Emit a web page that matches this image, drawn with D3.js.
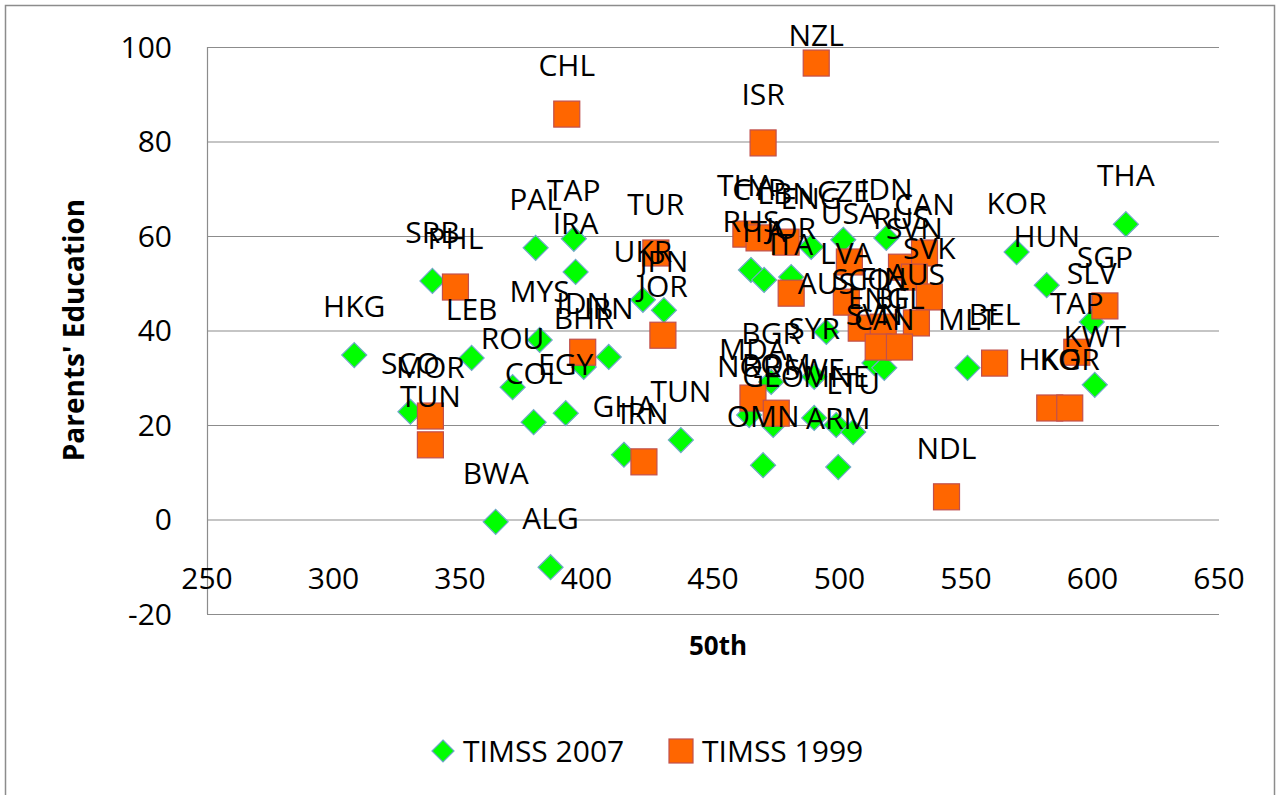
<!DOCTYPE html>
<html><head><meta charset="utf-8">
<script src="https://cdn.jsdelivr.net/npm/d3@7"></script>
<style>
html,body{margin:0;padding:0;background:#fff;}
svg text{font-family:"Open Sans",sans-serif;fill:#000;}
</style></head>
<body>
<svg id="chart" width="1280" height="795"></svg>
<script>
// ---- data ----
const names2007 = ["HKG","SCO","SRB","LEB","ROU","COL","EGY","PAL","TAP","IRA","MYS","BHR","IRN","UKR","JPN","GHA","TUN","BWA","ALG","RUS","ITA","JOR","ENG","CZE","IDN","AUS","SYR","BGR","NOR","GEO","SWE","MNE","LTU","OMN","ARM","SVN","CAN","KOR","HUN","THA","SLV","KWT","MLT"];
const x2007 = [308.2,330.4,339.1,354.6,370.8,379.1,391.8,379.9,395.0,395.7,381.5,398.9,408.8,422.3,430.6,414.8,437.3,364.1,385.8,465.0,470.2,480.9,488.8,501.5,518.5,494.8,490.0,473.0,464.3,473.8,490.0,498.7,505.4,469.8,499.5,513.8,517.7,570.0,581.9,613.2,599.7,600.9,550.6];
const y2007 = [34.8,22.8,50.5,34.2,28.0,20.6,22.5,57.5,59.4,52.4,38.0,32.3,34.4,46.5,44.3,13.7,16.8,-0.5,-10.1,52.8,50.7,51.3,57.7,59.2,59.6,39.7,30.2,29.1,22.1,20.0,21.5,20.0,18.5,11.5,11.1,33.1,32.1,56.6,49.6,62.5,41.8,28.5,32.1];

const names1999 = ["CHL","NZL","ISR","PHL","MOR","TUN","IDN","JOR","TUR","IRN","THA","CYP","LBN","ITA","USA","RUS","CAN","SVN","SVK","AUS","LVA","SCO","FIN","ENG","BFL","MDA","ROM","BEL","SGP","TAP","HKG","KOR","NDL"];
const x1999 = [392.2,490.8,469.8,348.2,338.3,338.3,398.5,430.2,427.4,422.7,463.0,468.2,478.9,480.9,503.9,524.5,533.6,529.6,535.5,530.4,502.7,508.6,517.3,515.3,523.7,465.8,475.0,561.3,604.9,593.8,583.1,591.0,542.3];
const y1999 = [85.8,96.6,79.7,49.2,21.9,15.8,35.4,39.0,56.4,12.2,60.4,59.6,58.7,47.9,54.5,53.4,56.4,51.3,47.1,41.6,46.0,40.5,40.7,36.5,36.5,25.7,22.5,33.1,45.2,35.4,23.6,23.6,4.8];

const xTicks = [250,300,350,400,450,500,550,600,650];
const yTicks = [-20,0,20,40,60,80,100];
const seriesNames = ["TIMSS 2007","TIMSS 1999"];
const xTitle = "50th";
const yTitle = "Parents' Education";

// ---- layout ----
const svg = d3.select("#chart");
const pL = 207, pR = 1219, pT = 47, pB = 614;
const x = d3.scaleLinear().domain([250,650]).range([pL,pR]);
const y = d3.scaleLinear().domain([-20,100]).range([pB,pT]);

// outer border
svg.append("rect").attr("x",5.5).attr("y",5.5).attr("width",1269).attr("height",820)
  .attr("fill","none").attr("stroke","#8c8c8c").attr("stroke-width",1.5);

// gridlines
svg.append("g").selectAll("line").data(yTicks).join("line")
  .attr("x1",pL).attr("x2",pR)
  .attr("y1",d=>y(d)+0.5).attr("y2",d=>y(d)+0.5)
  .attr("stroke","#8c8c8c").attr("stroke-width",1.2);
// y axis line
svg.append("line").attr("x1",pL+0.5).attr("x2",pL+0.5).attr("y1",pT).attr("y2",pB)
  .attr("stroke","#8c8c8c").attr("stroke-width",1.2);

// y tick labels
svg.append("g").selectAll("text").data(yTicks).join("text")
  .attr("x",172).attr("y",d=>y(d)).attr("text-anchor","end").attr("dy","0.35em")
  .attr("font-size",30).text(d=>d);
// x tick labels
svg.append("g").selectAll("text").data(xTicks).join("text")
  .attr("x",d=>x(d)).attr("y",578).attr("text-anchor","middle").attr("dy","0.35em")
  .attr("font-size",30).text(d=>d);

// axis titles
svg.append("text").attr("transform","translate(84,330) rotate(-90)")
  .attr("text-anchor","middle").attr("font-size",28).attr("font-weight","bold").text(yTitle);
svg.append("text").attr("x",718).attr("y",655).attr("text-anchor","middle")
  .attr("font-size",26).attr("font-weight","bold").text(xTitle);

const d2007 = names2007.map((n,i)=>({n, x:x2007[i], y:y2007[i]}));
const d1999 = names1999.map((n,i)=>({n, x:x1999[i], y:y1999[i]}));

const dsz = 12.5; // diamond half-diagonal
const diamond = `M0,${-dsz}L${dsz},0L0,${dsz}L${-dsz},0Z`;
const ssz = 13;

// markers
svg.append("g").selectAll("path").data(d2007).join("path")
  .attr("d",diamond).attr("transform",d=>`translate(${x(d.x)},${y(d.y)})`)
  .attr("fill","#00ff00").attr("stroke","#6fa8c8").attr("stroke-width",1.2);
svg.append("g").selectAll("rect").data(d1999).join("rect")
  .attr("x",d=>x(d.x)-ssz).attr("y",d=>y(d.y)-ssz).attr("width",2*ssz).attr("height",2*ssz)
  .attr("fill","#ff6600").attr("stroke","#c0504d").attr("stroke-width",1.2);

// labels (kept inside the chart frame, as the reference does)
const labY = d => Math.max(y(d.y)-38, 46);
const lab = svg.append("g").attr("font-size",30);
lab.selectAll("text.a").data(d2007).join("text").attr("class","a")
  .attr("x",d=>x(d.x)).attr("y",labY).attr("text-anchor","middle").text(d=>d.n);
lab.selectAll("text.b").data(d1999).join("text").attr("class","b")
  .attr("x",d=>x(d.x)).attr("y",labY).attr("text-anchor","middle").text(d=>d.n);

// legend
const lg = svg.append("g");
lg.append("path").attr("d",`M0,-11L11,0L0,11L-11,0Z`).attr("transform","translate(443,751)")
  .attr("fill","#00ff00").attr("stroke","#6fa8c8").attr("stroke-width",1.2);
lg.append("text").attr("x",463).attr("y",762).attr("font-size",30).text(seriesNames[0]);
lg.append("rect").attr("x",669).attr("y",739).attr("width",24).attr("height",24)
  .attr("fill","#ff6600").attr("stroke","#c0504d").attr("stroke-width",1.2);
lg.append("text").attr("x",702).attr("y",762).attr("font-size",30).text(seriesNames[1]);
</script>
</body></html>
